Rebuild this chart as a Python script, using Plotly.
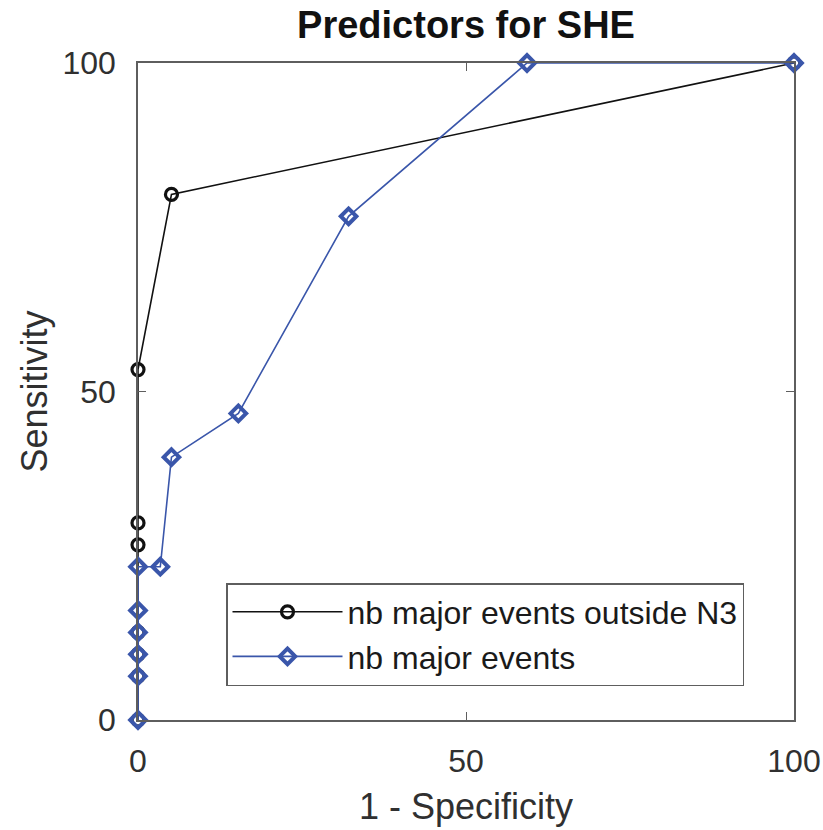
import plotly.graph_objects as go

# ROC points (1 - specificity, sensitivity), both in percent
fpr_outside_n3 = [0, 0, 0, 0, 0, 0, 0, 5.1, 100]
sens_outside_n3 = [0, 6.67, 10, 13.33, 26.67, 30, 53.33, 80, 100]

fpr_major = [0, 0, 0, 0, 0, 0, 3.4, 5.1, 15.3, 32.1, 59.3, 100]
sens_major = [0, 6.67, 10, 13.33, 16.67, 23.33, 23.33, 40, 46.67, 76.67, 100, 100]

x_ticks = [0, 50, 100]
y_ticks = [0, 50, 100]

AX = "#5e5e5e"
TXT = "#303030"
BLUE = "#3a56aa"
FONT = "Liberation Sans, Arial, sans-serif"

fig = go.Figure()
fig.add_trace(go.Scatter(
    x=fpr_outside_n3, y=sens_outside_n3, mode="lines+markers",
    name="nb major events outside N3",
    line=dict(color="#111111", width=1.6),
    marker=dict(symbol="circle-open", size=12, color="#111111", line=dict(width=3.2)),
    cliponaxis=False,
))
fig.add_trace(go.Scatter(
    x=fpr_major, y=sens_major, mode="lines+markers",
    name="nb major events",
    line=dict(color=BLUE, width=1.6),
    marker=dict(symbol="diamond-open", size=12, color=BLUE, line=dict(width=4)),
    cliponaxis=False,
))

axis_common = dict(
    showgrid=False, zeroline=False, showline=True, mirror="ticks",
    linecolor=AX, linewidth=1.5, ticks="inside", ticklen=8, tickwidth=1.2,
    tickcolor=AX, tickfont=dict(family=FONT, size=32, color=TXT),
    automargin=False,
)

fig.update_layout(
    width=823, height=830,
    margin=dict(l=138, r=29, t=63, b=110),
    paper_bgcolor="white", plot_bgcolor="white",
    title=dict(text="<b>Predictors for SHE</b>", x=0.5, xref="paper", xanchor="center",
               y=1 - 25 / 830, yanchor="middle",
               font=dict(family=FONT, size=38, color="#111111")),
    xaxis=dict(range=[0, 100], tickvals=x_ticks, ticktext=[str(v) for v in x_ticks],
               title=dict(text="1 - Specificity", font=dict(family=FONT, size=36, color=TXT),
                          standoff=16),
               ticklabelstandoff=12, **axis_common),
    yaxis=dict(range=[0, 100], tickvals=y_ticks, ticktext=[str(v) for v in y_ticks],
               title=dict(text="Sensitivity", font=dict(family=FONT, size=36, color=TXT),
                          standoff=4),
               ticklabelstandoff=14, **axis_common),
    legend=dict(
        x=(226 - 138) / 656, xanchor="left", y=(720 - 686) / 657, yanchor="bottom",
        bordercolor=AX, borderwidth=1.5, bgcolor="white",
        font=dict(family=FONT, size=32, color="#1a1a1a"),
        itemwidth=110, tracegroupgap=0, entrywidth=410, entrywidthmode="pixels",
    ),
    showlegend=True,
)

fig.write_html("out.html")
